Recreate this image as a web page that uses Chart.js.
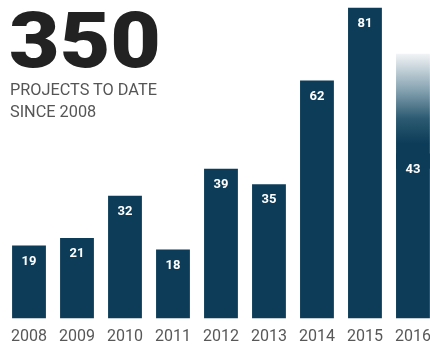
<!DOCTYPE html>
<html>
<head>
<meta charset="utf-8">
<script src="https://cdn.jsdelivr.net/npm/chart.js@4"></script>
<style>
  html, body { margin:0; padding:0; background:#fff; width:430px; height:344px; overflow:hidden; }
  #wrap { position:absolute; left:0; top:0; width:440px; height:344px; }
  #big { position:absolute; left:9px; top:2px; font-family:Roboto, sans-serif; font-weight:900; font-size:78px; line-height:1; color:#222; transform:scaleX(1.12); transform-origin:left top; z-index:2; }
  #sub { position:absolute; left:10px; top:79px; font-family:Roboto, sans-serif; font-size:16.3px; line-height:22px; color:#555; z-index:2; }
</style>
</head>
<body>
<div id="wrap"><canvas id="c" width="440" height="344"></canvas></div>
<div id="big">350</div>
<div id="sub">PROJECTS TO DATE<br>SINCE 2008</div>
<script>
const years = ["2008","2009","2010","2011","2012","2013","2014","2015","2016"];
const projects = [19, 21, 32, 18, 39, 35, 62, 81, 43];
const projectedTop = [null, null, null, null, null, null, null, null, 69];

const BAR = "#0c3c58";

const labelPlugin = {
  id: "barLabels",
  afterDatasetsDraw(chart) {
    const ctx = chart.ctx;
    const meta = chart.getDatasetMeta(0);
    ctx.save();
    ctx.fillStyle = "#ffffff";
    ctx.font = "bold 13px Roboto, sans-serif";
    ctx.textAlign = "center";
    ctx.textBaseline = "middle";
    meta.data.forEach((bar, i) => {
      ctx.fillText(String(projects[i]), bar.x, bar.y + 16);
    });
    ctx.restore();
  }
};

const fadeData = projectedTop.map((t, i) => (t == null ? null : [projects[i] - 4, t]));

new Chart(document.getElementById("c"), {
  type: "bar",
  data: {
    labels: years,
    datasets: [
      { data: projects, backgroundColor: BAR, borderWidth: 0 },
      {
        data: fadeData,
        borderWidth: 0,
        backgroundColor(context) {
          const chart = context.chart;
          const ys = chart.scales.y;
          if (!ys || !chart.chartArea) return BAR;
          const i = context.dataIndex;
          if (projectedTop[i] == null) return BAR;
          const y0 = ys.getPixelForValue(projectedTop[i]);
          const y1 = ys.getPixelForValue(projects[i]);
          const g = chart.ctx.createLinearGradient(0, y0, 0, y1);
          g.addColorStop(0, "#f2f4f6");
          g.addColorStop(0.35, "#8aa6b4");
          g.addColorStop(0.65, "#2c5a72");
          g.addColorStop(0.9, BAR);
          g.addColorStop(1, BAR);
          return g;
        }
      }
    ]
  },
  options: {
    responsive: false,
    devicePixelRatio: 1,
    animation: false,
    layout: { padding: { left: 5, right: 1, top: 0, bottom: 0 } },
    plugins: { legend: { display: false }, tooltip: { enabled: false }, title: { display: false } },
    datasets: { bar: { categoryPercentage: 1, barPercentage: 0.705 } },
    scales: {
      x: {
        stacked: true,
        grid: { display: false, drawTicks: false, tickLength: 0 },
        border: { display: false },
        ticks: { color: "#585858", font: { family: "Roboto", size: 16 }, padding: 9, maxRotation: 0, autoSkip: false },
        afterFit(scale) { scale.height = 25.5; }
      },
      y: {
        stacked: false,
        display: false,
        min: 0,
        max: 83
      }
    }
  },
  plugins: [labelPlugin]
});
</script>
</body>
</html>
